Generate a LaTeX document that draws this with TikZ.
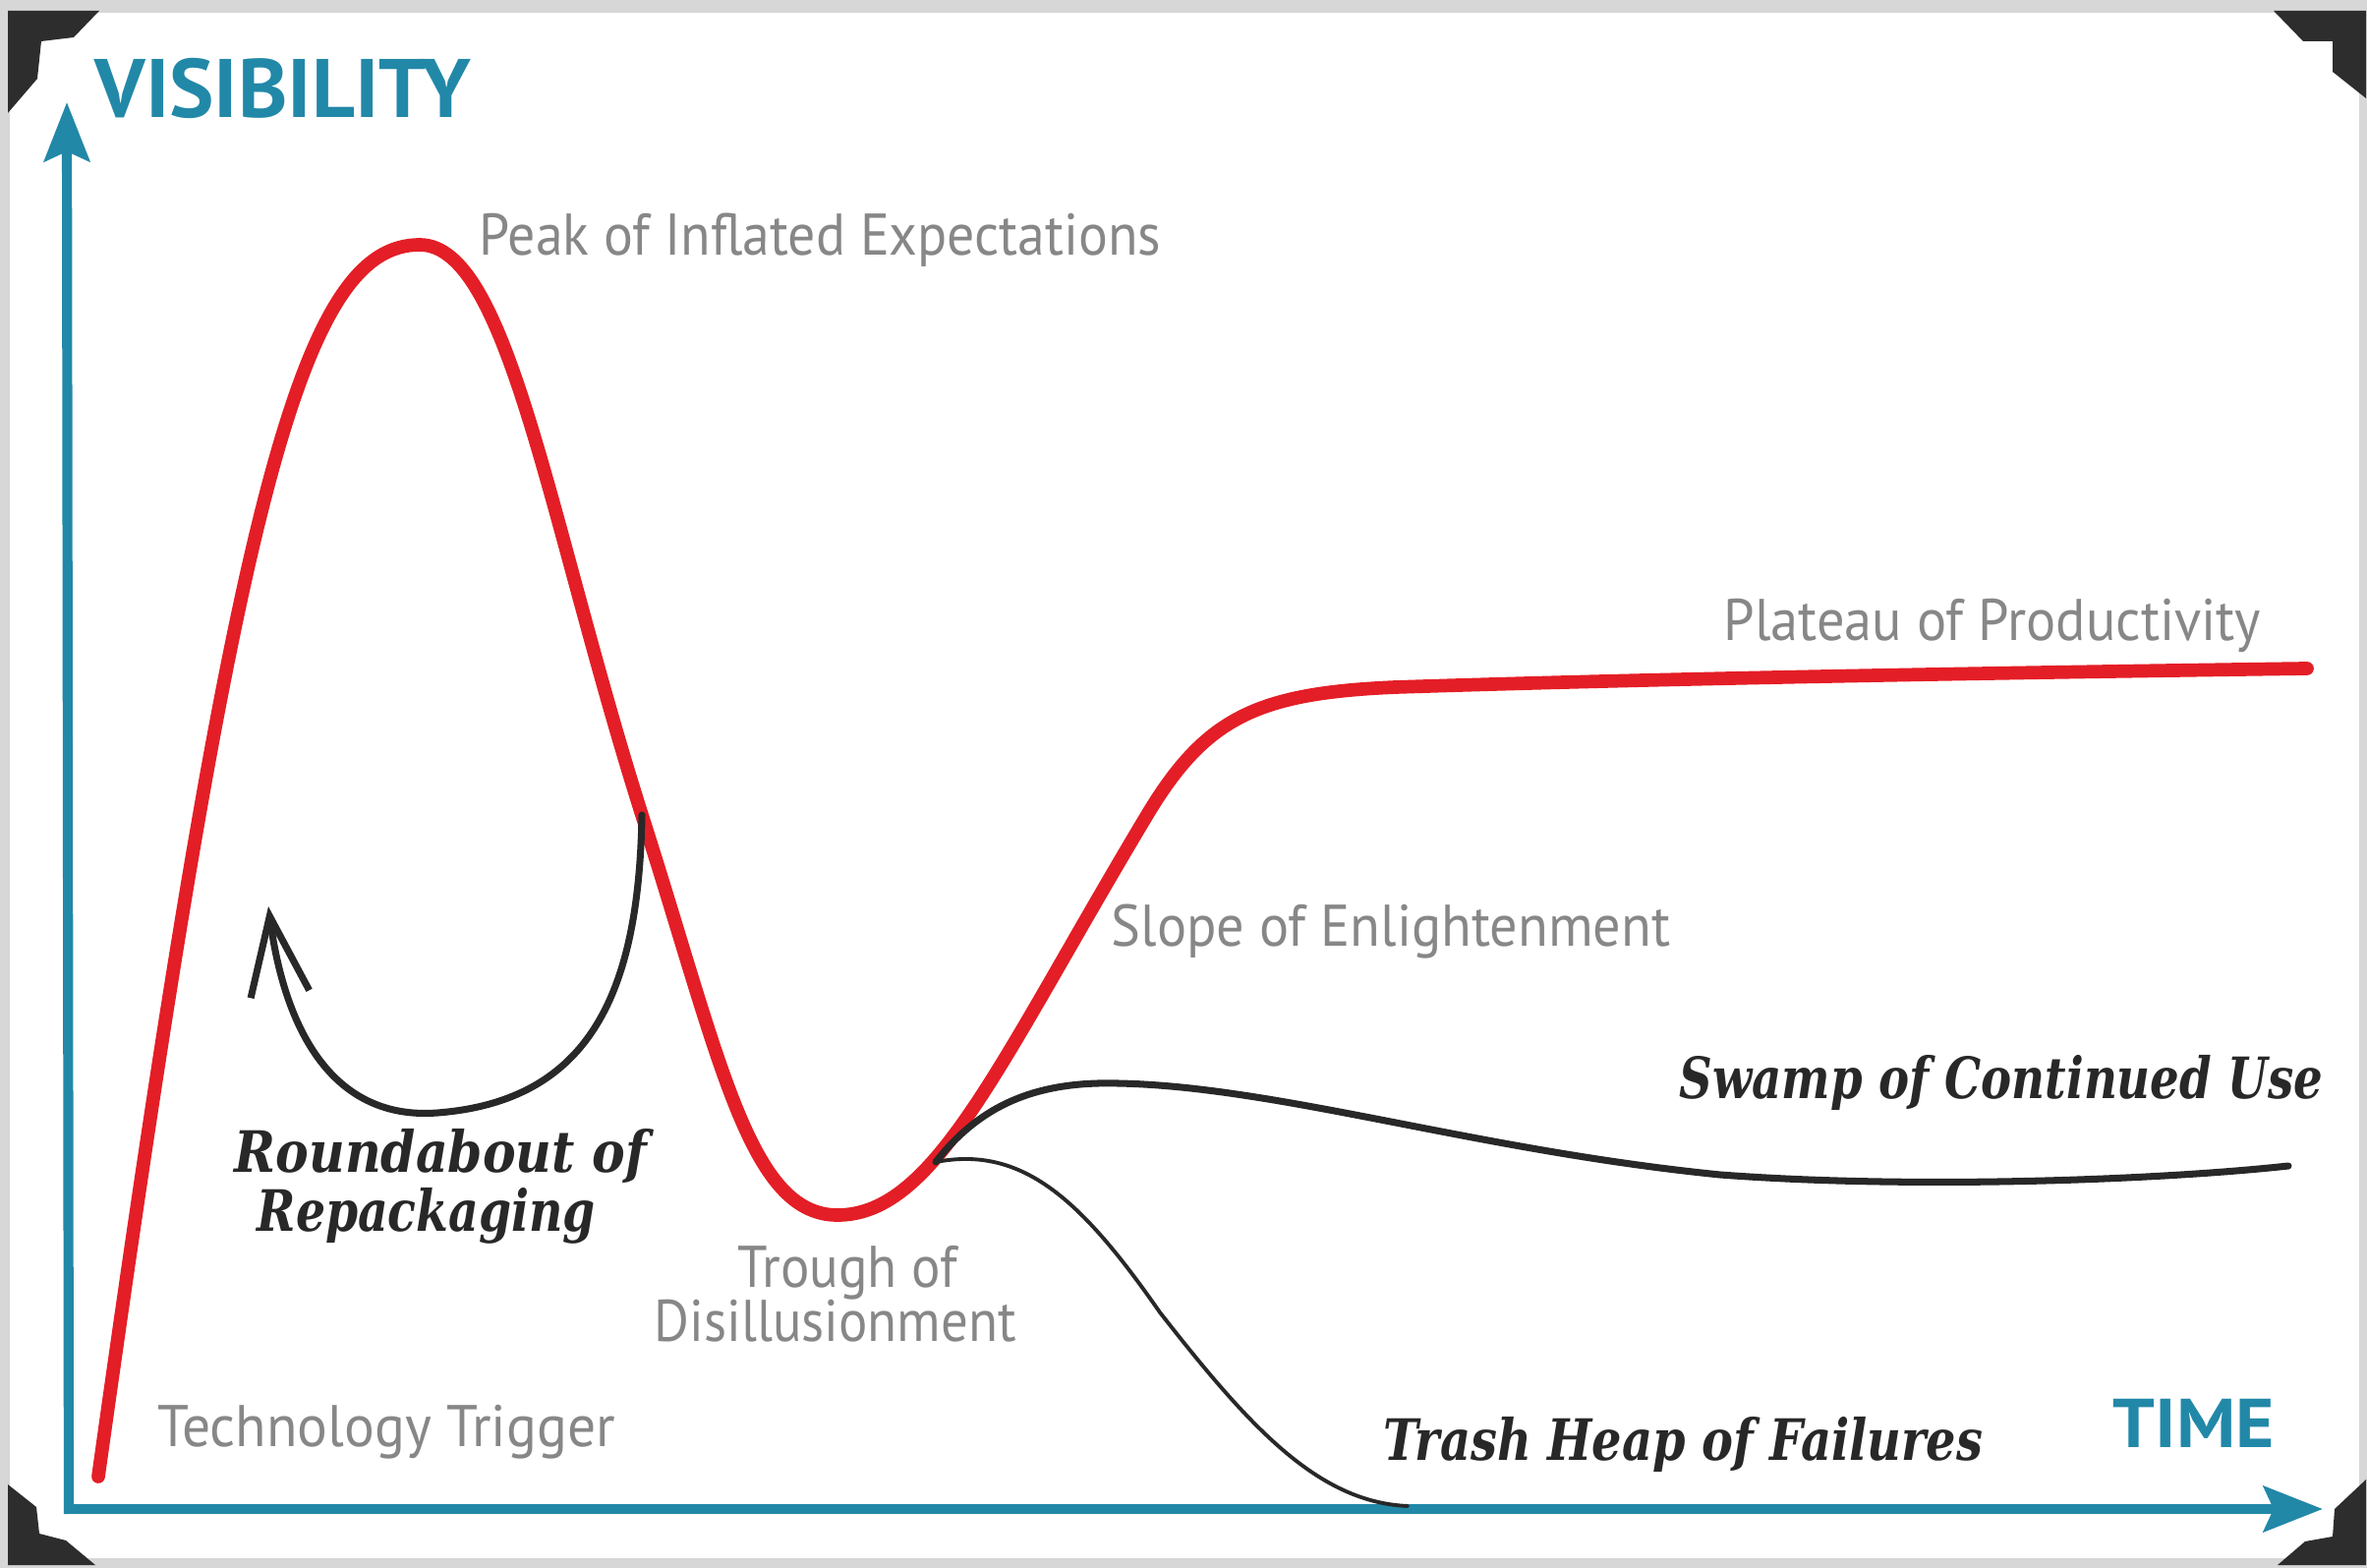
\documentclass[tikz,border=0pt]{standalone}
\usepackage{fontspec}
\setmainfont{PT Sans}
\newfontfamily\serifbi{DejaVu Serif}
\usetikzlibrary{arrows.meta}
\definecolor{tealax}{RGB}{34,136,168}
\definecolor{hypered}{RGB}{228,30,38}
\definecolor{lblgray}{RGB}{135,135,135}
\definecolor{ink}{RGB}{40,40,40}
\definecolor{cornerc}{RGB}{45,45,45}
\definecolor{bggray}{RGB}{215,215,215}
\newcommand\fitw[2]{\resizebox{#1}{\height}{#2}}
\begin{document}
\begin{tikzpicture}[x=0.01cm,y=-0.01cm,
  graylbl/.style={anchor=base west, inner sep=0pt, text=lblgray, font=\fontsize{17}{20}\selectfont},
  serlbl/.style={anchor=base west, inner sep=0pt, text=ink, font=\serifbi\bfseries\itshape\fontsize{16.5}{20}\selectfont},
  axislbl/.style={anchor=base west, inner sep=0pt, text=tealax, font=\bfseries\fontsize{24}{28}\selectfont},
  axisline/.style={tealax, line width=2.9pt, -{Stealth[length=0.6cm,width=0.46cm,inset=0.1cm]}},
  hype/.style={hypered, line width=3.9pt, line cap=round, line join=round},
  blk/.style={ink, line width=2pt, line cap=round},
  thinblk/.style={ink, line width=1.1pt, line cap=round},
  cornerpiece/.style={fill=cornerc, draw=none}]

\useasboundingbox (0,0) rectangle (2408,1595);
\fill[bggray] (0,0) rectangle (2408,1595);
\fill[white] (10,13) rectangle (2400,1585);

% corner protectors
\fill[cornerpiece] (8,11) -- (101,11) -- (75,38) -- (42,42) -- (38,80) -- (8,115) -- cycle;
\fill[cornerpiece] (2313,11) -- (2407,11) -- (2407,100) -- (2373,73) -- (2373,42) -- (2343,42) -- cycle;
\fill[cornerpiece] (8,1510) -- (37,1533) -- (40,1560) -- (67,1567) -- (97,1592) -- (8,1592) -- cycle;
\fill[cornerpiece] (2407,1505) -- (2407,1592) -- (2317,1592) -- (2345,1568) -- (2373,1563) -- (2375,1535) -- cycle;

% axes
\coordinate (org) at (70,1535);
\coordinate (ytip) at (68,104);
\coordinate (xtip) at (2363,1535);
\draw[axisline] (70,1540) -- (ytip);
\draw[axisline] (65,1535) -- (xtip);
\node[axislbl] (vis) at (96,120) {\fitw{3.82cm}{VISIBILITY}};
\node[axislbl, font=\bfseries\fontsize{20}{24}\selectfont] (time) at (2149,1473) {\fitw{1.64cm}{TIME}};

% hype curve
\coordinate (peakpt) at (427,249);
\coordinate (rjoin) at (653,829);
\coordinate (troughpt) at (852,1236);
\coordinate (slopept) at (1167,829);
\coordinate (knee) at (1420,699);
\coordinate (rend) at (2347,680);
\coordinate (branch) at (952,1182);
\draw[hype] (100,1502) .. controls (240,502) and (307,249) .. (peakpt)
  .. controls (517,249) and (558,529) .. (rjoin)
  .. controls (733,1079) and (762,1236) .. (troughpt)
  .. controls (952,1236) and (1017,1079) .. (slopept)
  .. controls (1227,729) and (1280,705) .. (knee)
  .. controls (1700,690) and (2000,685) .. (rend);

% roundabout
\coordinate (rbottom) at (445,1132);
\coordinate (rtip) at (273,922);
\draw[blk, -{Straight Barb[length=0.8cm,width=0.6cm]}] (rjoin)
  .. controls (650,1010) and (600,1120) .. (rbottom)
  .. controls (340,1140) and (290,1050) .. (rtip);

% swamp
\coordinate (swpeak) at (1137,1102);
\coordinate (swmid) at (1750,1195);
\coordinate (swend) at (2328,1186);
\draw[blk] (branch) .. controls (1000,1120) and (1060,1100) .. (swpeak)
  .. controls (1300,1105) and (1500,1170) .. (swmid)
  .. controls (1950,1210) and (2200,1200) .. (swend);

% trash heap
\coordinate (trmid) at (1180,1335);
\coordinate (trend) at (1432,1532);
\draw[thinblk] (branch) .. controls (1040,1165) and (1100,1220) .. (trmid)
  .. controls (1270,1450) and (1340,1528) .. (trend);

% labels
\node[graylbl] (peak) at (487,260) {\fitw{6.93cm}{Peak of Inflated Expectations}};
\node[graylbl] (plateau) at (1753,652) {\fitw{5.46cm}{Plateau of Productivity}};
\node[graylbl] (slope) at (1130,963) {\fitw{5.68cm}{Slope of Enlightenment}};
\node[graylbl] (trough1) at (750,1310) {\fitw{2.23cm}{Trough of}};
\node[graylbl] (trough2) at (665,1365) {\fitw{3.68cm}{Disillusionment}};
\node[graylbl] (tech) at (160,1472) {\fitw{4.65cm}{Technology Trigger}};
\node[serlbl] (swamp) at (1708,1118) {\fitw{6.54cm}{Swamp of Continued Use}};
\node[serlbl] (round1) at (238,1193) {\fitw{4.19cm}{Roundabout of}};
\node[serlbl] (round2) at (261,1253) {\fitw{3.44cm}{Repackaging}};
\node[serlbl] (trash) at (1407,1485) {\fitw{6.09cm}{Trash Heap of Failures}};
\end{tikzpicture}
\end{document}
